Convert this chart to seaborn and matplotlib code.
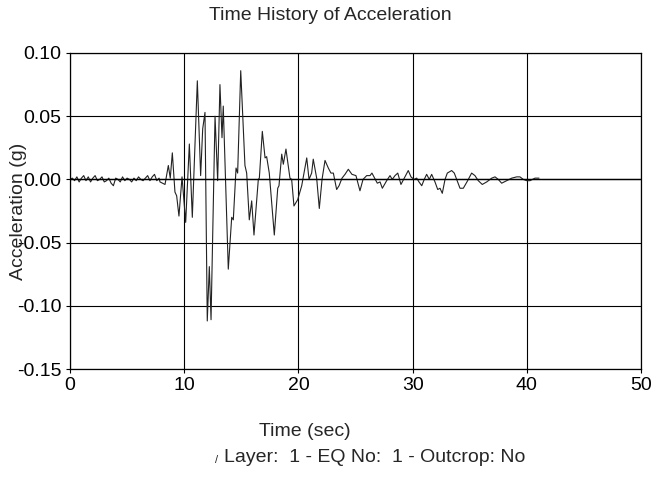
"""Time history of acceleration - recreated with seaborn."""
import numpy as np
import pandas as pd
import matplotlib
matplotlib.use("Agg")
import matplotlib.pyplot as plt
from matplotlib.ticker import FormatStrFormatter, MultipleLocator
import seaborn as sns

# ------------------------------------------------------------------ #
#  Data                                       #
# ------------------------------------------------------------------ #

# low-level noise before the strong motion (0 - 7.8 s, every 0.2 s)
noise_time = [round(0.2 * i, 1) for i in range(40)]
noise_acc = [0.000, 0.001, -0.001, 0.002, -0.002, 0.001, 0.003, -0.001,
             0.002, -0.002, 0.001, 0.003, -0.001, 0.000, 0.002, -0.002,
             -0.001, 0.001, -0.003, -0.005, 0.001, 0.000, -0.002, 0.002,
             -0.001, 0.001, 0.000, -0.002, 0.001, -0.001, 0.002, 0.000,
             -0.001, 0.001, 0.003, -0.001, 0.002, 0.004, -0.001, 0.001]

# strong motion and coda (peaks / troughs)
event_time = [7.88, 8.32, 8.61, 8.78, 8.96, 9.19, 9.34, 9.54, 9.81, 10.13,
              10.45, 10.71, 11.15, 11.44, 11.62, 11.82, 12.02, 12.20, 12.35,
              12.70, 12.93, 13.13, 13.31, 13.42, 13.86, 14.16, 14.30, 14.54,
              14.68, 14.95, 15.32, 15.47, 15.70, 15.91, 16.11, 16.49, 16.58,
              16.84, 17.08, 17.22, 17.45, 17.89, 18.19, 18.30, 18.54, 18.68,
              18.91, 19.26, 19.41, 19.61, 19.94, 20.29, 20.73, 20.93, 21.16,
              21.30, 21.60, 21.83, 22.07, 22.33, 22.62, 22.85, 23.06, 23.35,
              23.56, 23.82, 24.08, 24.37, 24.69, 25.04, 25.39, 25.66, 25.98,
              26.27, 26.44, 26.62, 26.91, 27.15, 27.35, 27.73, 28.02, 28.22,
              28.46, 28.70, 28.98, 29.33, 29.62, 29.86, 30.12, 30.36, 30.56,
              30.80, 31.02, 31.23, 31.46, 31.67, 31.96, 32.20, 32.40, 32.60,
              32.84, 33.04, 33.42, 33.65, 33.86, 34.15, 34.44, 34.82, 35.17,
              35.46, 35.75, 36.10, 36.49, 36.93, 37.22, 37.50, 37.80, 38.24,
              38.68, 39.12, 39.40, 39.69, 39.99, 40.28, 40.72, 41.07]
event_acc = [-0.002, -0.004, 0.011, 0.001, 0.021, -0.010, -0.013, -0.029,
             0.002, -0.034, 0.028, -0.030, 0.078, 0.003, 0.040, 0.053,
             -0.112, -0.069, -0.111, 0.050, -0.001, 0.075, 0.033, 0.058,
             -0.071, -0.030, -0.032, 0.009, 0.005, 0.086, 0.011, 0.005,
             -0.032, -0.017, -0.044, 0.000, 0.001, 0.038, 0.017, 0.018,
             0.005, -0.044, -0.007, -0.005, 0.020, 0.012, 0.024, 0.001,
             0.000, -0.021, -0.016, -0.005, 0.017, 0.000, 0.005, 0.016,
             0.001, -0.023, 0.000, 0.015, 0.009, 0.005, 0.005, -0.008,
             -0.005, 0.001, 0.004, 0.008, 0.004, 0.003, -0.009, 0.000,
             0.003, 0.003, 0.005, 0.002, -0.003, -0.002, -0.007, -0.001,
             0.003, 0.000, 0.003, 0.005, -0.004, 0.002, 0.007, 0.002,
             0.000, 0.001, -0.002, -0.005, 0.000, 0.004, 0.000, 0.004,
             -0.002, -0.008, -0.007, -0.011, 0.000, 0.005, 0.007, 0.005,
             0.000, -0.007, -0.007, -0.001, 0.005, 0.003, -0.001, -0.004,
             -0.002, 0.001, 0.002, 0.000, -0.003, -0.001, 0.001, 0.002,
             0.002, 0.000, -0.001, -0.001, 0.001, 0.001]

x_ticks = [0, 10, 20, 30, 40, 50]
y_ticks = [-0.15, -0.10, -0.05, 0.00, 0.05, 0.10]

df = pd.DataFrame({
    "time": noise_time + event_time,
    "acc": noise_acc + event_acc,
})

# ------------------------------------------------------------------ #
#  Plot                                                               #
# ------------------------------------------------------------------ #

sns.set_style("white")
plt.rcParams["font.family"] = ["Liberation Sans", "DejaVu Sans"]
FS = 14

fig = plt.figure(figsize=(6.57, 4.78), dpi=100)
ax = fig.add_axes([70 / 657, 1 - 369 / 478, 571 / 657, 316 / 478])

sns.lineplot(data=df, x="time", y="acc", ax=ax, estimator=None, sort=False,
             color="#222222", linewidth=0.8)

ax.set_xlim(x_ticks[0], x_ticks[-1])
ax.set_ylim(y_ticks[0], y_ticks[-1])
ax.xaxis.set_major_locator(MultipleLocator(10))
ax.yaxis.set_major_locator(MultipleLocator(0.05))
ax.yaxis.set_major_formatter(FormatStrFormatter("%.2f"))
ax.grid(True, color="black", linewidth=0.8)
ax.axhline(0, color="black", linewidth=1.0)
for sp in ax.spines.values():
    sp.set_color("black")
    sp.set_linewidth(0.9)
ax.tick_params(axis="both", direction="out", length=3, width=0.8,
               labelsize=FS, colors="black", pad=3, left=True, bottom=True)

ax.set_xlabel("")
ax.set_ylabel("Acceleration (g)", fontsize=FS)
ax.yaxis.set_label_coords(-0.075, 0.5)

fig.text(330 / 657, 1 - 15 / 478, "Time History of Acceleration",
         ha="center", va="center", fontsize=FS)
fig.text(305 / 657, 1 - 432 / 478, "Time (sec)",
         ha="center", va="center", fontsize=FS)
fig.text(215 / 657, 1 - 460 / 478, "/", ha="left", va="center", fontsize=8)
fig.text(224 / 657, 1 - 458 / 478, "Layer:  1 - EQ No:  1 - Outcrop: No",
         ha="left", va="center", fontsize=FS)

fig.savefig("out.png", dpi=100)
plt.close(fig)
